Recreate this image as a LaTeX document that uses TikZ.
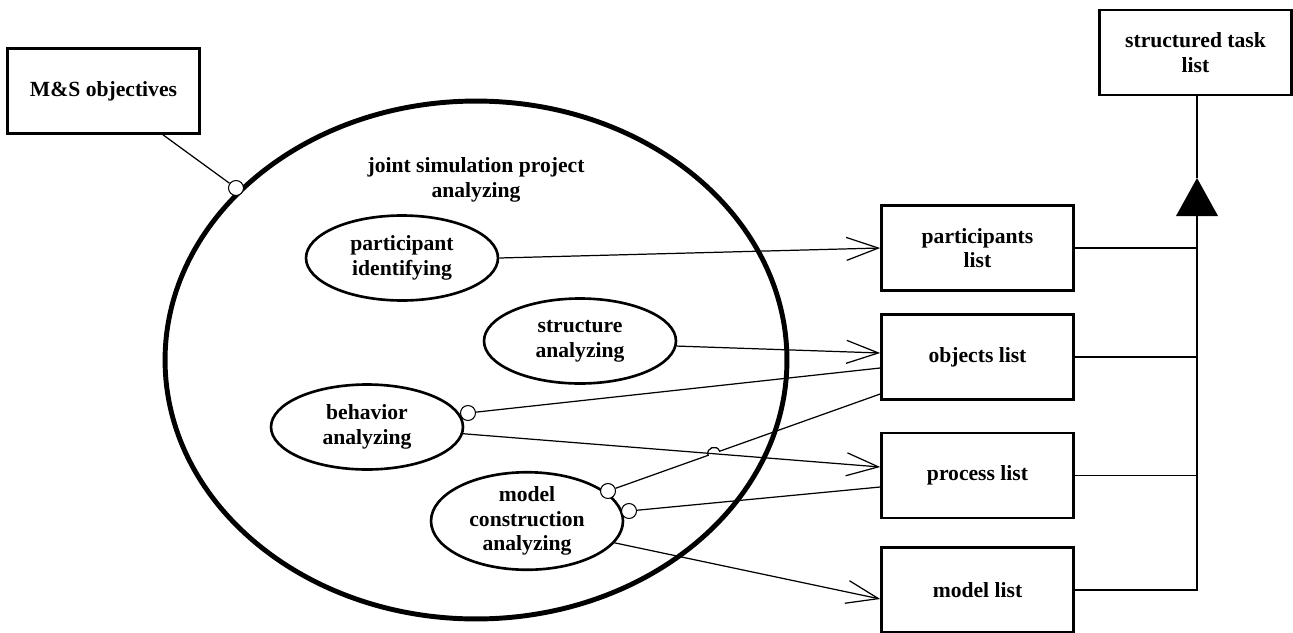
\documentclass[tikz,border=0pt]{standalone}
\usepackage{fontspec}
\setmainfont{Liberation Serif}
\usetikzlibrary{shapes,arrows.meta,calc}
\tikzset{
    block/.style = {draw, rectangle, line width=1.5pt,
        minimum height=1.7cm,
        minimum width=3.84cm, align=center,
        font=\bfseries\fontsize{12.3}{14}\selectfont},
    usecase/.style = {draw, ellipse, line width=1.5pt, inner sep=0pt,
        minimum height=1.7cm,
        minimum width=3.84cm, align=center,
        font=\bfseries\fontsize{12.3}{14}\selectfont},
    socket/.style = {draw, circle, fill=white, inner sep=0pt,
        minimum size=0.3cm, line width=0.6pt},
    arrow/.style = {draw, line width=0.7pt,
        -{Straight Barb[length=0.64cm, width=0.46cm, line width=0.7pt]}},
    link/.style = {draw, line width=0.7pt}
}

\begin{document}
\begin{tikzpicture}[x=0.02cm, y=-0.02cm]
        \useasboundingbox (0,0) rectangle (1293,632);
        \node [block] (objectives) at (103.5,91) {M\&S objectives};
        \node [draw, ellipse, line width=2.8pt, minimum width=12.44cm, minimum height=10.36cm] (project) at (476,360) {};
        \node [align=center, font=\bfseries\fontsize{12.3}{14}\selectfont] (projtitle) at (476,180) {joint simulation project\\analyzing};
        \node [usecase] (partid) at (402,258) {participant\\identifying};
        \node [usecase] (structan) at (580,341) {structure\\analyzing};
        \node [usecase] (behavan) at (367,427) {behavior\\analyzing};
        \node [usecase] (modelan) at (527,521) {model\\construction\\analyzing};
        \node [block] (partlist) at (977.5,248) {participants\\list};
        \node [block] (objlist) at (977.5,357) {objects list};
        \node [block] (proclist) at (977.5,475.5) {process list};
        \node [block] (modlist) at (977.5,590) {model list};
        \node [block] (tasklist) at (1195.5,52.5) {structured task\\list};
        \draw [arrow] (partid.east) -- (partlist.west);
        \draw [arrow] (structan.-3) -- ([yshift=0.08cm]objlist.west);
        \draw [arrow] (behavan.-4) -- ([yshift=0.17cm]proclist.west);
        \draw [arrow] (modelan.-14) -- ([yshift=-0.18cm]modlist.west);
        \node [socket] (projsock) at (236,188) {};
        \node [socket] (behavsock) at (468,413) {};
        \node [socket] (modelsockA) at (608,491) {};
        \node [socket] (modelsockB) at (629,511) {};
        \draw [link] ([xshift=1.19cm]objectives.south) -- (projsock);
        \draw [link] ([yshift=-0.22cm]objlist.west) -- (behavsock);
        \coordinate (objlow) at ([yshift=-0.74cm]objlist.west);
        \draw [link] (objlow) -- ($(objlow)!0.59!(modelsockA)$) .. controls +(-2.7,-7.5) and +(-2.7,-7.5) .. ($(objlow)!0.632!(modelsockA)$) -- (modelsockA);
        \draw [link] ([yshift=-0.23cm]proclist.west) -- (modelsockB);
        \coordinate (tritop) at (1197,178);
        \coordinate (tribot) at (1197,216);
        \fill (1176,216) -- (tritop) -- (1218,216) -- cycle;
        \draw [link] (tasklist.south -| tritop) -- (tritop);
        \draw [link] (tribot) |- (modlist.east);
        \foreach \n in {partlist,objlist,proclist}
            \draw [link] (\n.east) -- (\n.east -| tribot);
    \end{tikzpicture}
\end{document}
